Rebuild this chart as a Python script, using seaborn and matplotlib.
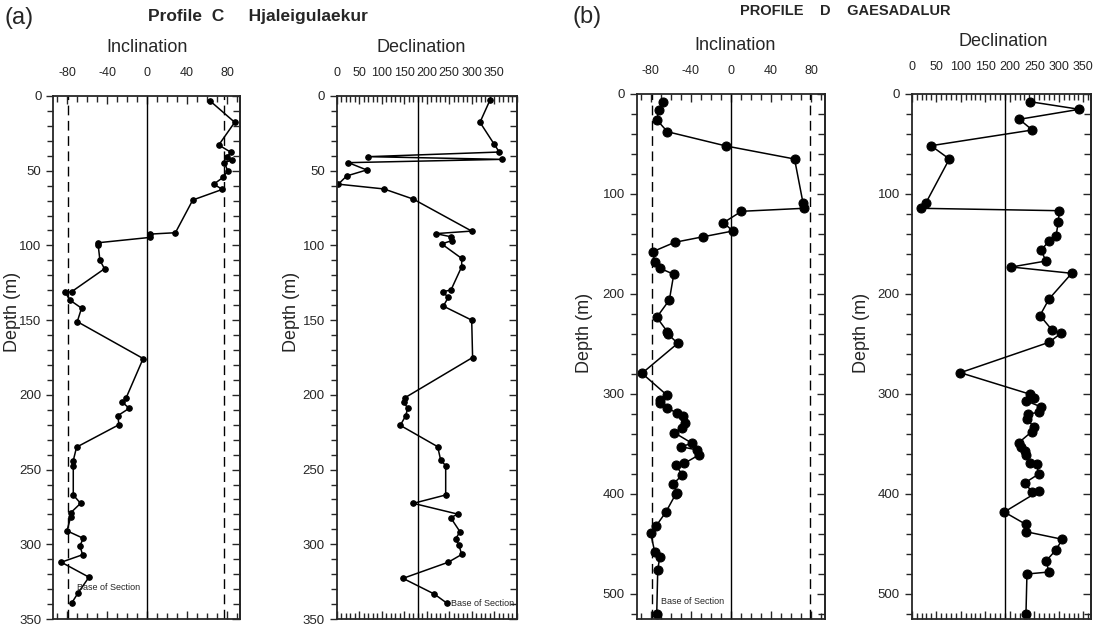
import matplotlib
matplotlib.use("Agg")
import matplotlib.pyplot as plt
from matplotlib.ticker import MultipleLocator
import seaborn as sns
import numpy as np

# ---------------- data ----------------
# Profile C (a): inclination
a_inc_depth = [3.1, 17.6, 32.8, 37.7, 40.6, 42.9, 44.6, 50, 54.5, 59, 62.5, 69.6, 91.5, 92.4, 94.6,
               98.2, 100, 110, 115.6, 131, 131.5, 136.6, 142, 151, 175.7, 202.4, 205, 209, 213.9,
               220, 235, 244, 247.5, 267, 272.6, 279, 282, 291, 296, 301, 307, 312, 322, 332.7, 339]
a_inc_val = [62.7, 87.7, 71.7, 84, 80, 84.7, 77.3, 80.7, 76, 66.7, 75.3, 45.7, 28.3, 3.3, 3.3,
             -49, -49, -47.3, -42.7, -75.7, -82, -77.3, -65.7, -70, -4, -21.3, -24.7, -18, -29.3,
             -28.3, -70.7, -74, -74, -74, -66.7, -76.7, -76.7, -80.3, -64, -67.3, -64.7, -86, -58.3,
             -69.3, -75.3]
# Profile C (a): declination
a_dec_depth = [2.7, 17.6, 32.1, 37.5, 40.6, 42.4, 44.6, 49.5, 53.5, 59, 62.2, 69, 90.4, 92.1, 94.2,
               96.8, 99, 108.7, 114.2, 129.8, 131, 134.8, 140.6, 150, 175, 201.9, 205, 209, 214,
               220.4, 234.7, 243.6, 247.4, 267, 272.6, 279.8, 282.2, 291.6, 296.3, 300.8, 306.8,
               312, 322.8, 333.3, 339.6]
a_dec_val = [340.7, 318.4, 349.6, 361.3, 70.2, 366.7, 25.8, 66.7, 22.2, 3.6, 105, 170.2, 300, 220, 254,
             255.5, 233.3, 277.8, 277.8, 254, 235.6, 248, 236.9, 300, 302, 151.8, 149.6, 157.8, 153.3,
             141.3, 224.4, 231, 242.2, 242.2, 170.2, 268.9, 253.3, 274, 264.4, 271.8, 277.8,
             248, 147.3, 216.9, 245.8]

# Profile D (b): inclination
b_inc_depth = [7.7, 16, 25.7, 37.7, 52, 65, 108.7, 114.3, 117.3, 128.7, 137, 142.7, 148.3, 157.7,
               167.7, 174.3, 180.3, 206, 223.3, 237.7, 240, 249.3, 279.3, 301, 306, 308.7, 313.7,
               319.3, 322, 328.7, 333.7, 338.7, 349.3, 352.7, 356, 361, 369.3, 371, 381, 389.7,
               398.7, 400, 418.3, 432, 439.3, 458, 463, 476, 520]
b_inc_val = [-68, -71.7, -74, -63.4, -4.7, 63.6, 72, 73, 10.6, -7.4, 2, -27.4, -56, -78,
             -76, -70.7, -57, -61.4, -74, -63.4, -63, -53, -88.7, -64, -70.7, -70.7, -64,
             -53.4, -48, -46, -49, -56.4, -38.7, -49.7, -33.4, -32, -46.4, -55, -48.4, -57.4,
             -54, -55, -65, -74.7, -80, -76, -71, -73, -74]
# Profile D (b): declination
b_dec_depth = [7.7, 15.3, 25.3, 36, 51.7, 65, 108.7, 114.3, 116.7, 127.7, 142, 146.7, 156.3, 167,
               173, 179.3, 205, 221.5, 236, 239.3, 248.3, 278.7, 300.3, 304.3, 306.7, 312.7, 318.3,
               320, 325.3, 332.7, 337.7, 348.7, 352.7, 356.7, 361, 369.3, 370, 380, 389, 397.7, 397,
               418, 430.3, 437.7, 445.3, 456, 467, 478, 480, 520]
b_dec_val = [241.2, 341.8, 219.4, 245.9, 39.4, 76.7, 29.2, 18.4, 301, 299, 294.3, 280.6, 263.7, 273.9,
             203.1, 326.3, 280, 261.6, 286.1, 304.4, 280, 99.1, 241.8, 250, 232.5, 263, 260.2,
             236.5, 235.1, 248.8, 244.7, 218.2, 222.9, 231, 232.5, 241.2, 254.9, 259, 230.4, 245.3,
             259.6, 188.8, 232.5, 233.1, 307.1, 294, 274, 280, 235, 233]

inc_ticks = [-80, -40, 0, 40, 80]
dec_ticks = [0, 50, 100, 150, 200, 250, 300, 350]
a_depth_ticks = [0, 50, 100, 150, 200, 250, 300, 350]
b_depth_ticks = [0, 100, 200, 300, 400, 500]

# ---------------- style ----------------
sns.set_style("ticks")
plt.rcParams['font.family'] = ['Liberation Sans', 'DejaVu Sans']
plt.rcParams['axes.linewidth'] = 1.3
plt.rcParams['axes.unicode_minus'] = False

W, H = 1111, 632
fig = plt.figure(figsize=(W / 100, H / 100), dpi=100)


def px_axes(x0, x1, y0, y1):
    return fig.add_axes([x0 / W, 1 - y1 / H, (x1 - x0) / W, (y1 - y0) / H])


def ftext(x, y, s, **kw):
    fig.text(x / W, 1 - y / H, s, **kw)


def style_axes(ax, xlim, xmaj, xmin, ylim, ymaj, ymin, xpad, lab_x, lab_y):
    ax.set_xlim(*xlim)
    ax.set_ylim(ylim[1], ylim[0])
    ax.set_xticks(xmaj)
    ax.xaxis.set_minor_locator(MultipleLocator(xmin))
    ax.tick_params(axis='x', which='both', direction='in', top=True, bottom=True,
                   labeltop=True, labelbottom=False, labelsize=9, pad=xpad)
    ax.tick_params(axis='x', which='major', length=6, width=1)
    ax.tick_params(axis='x', which='minor', length=4, width=1)
    ax.set_yticks(ymaj)
    ax.yaxis.set_minor_locator(MultipleLocator(ymin))
    ax.tick_params(axis='y', which='both', direction='out', left=True, right=False,
                   labelsize=9.5, width=1)
    ax.tick_params(axis='y', which='major', length=5)
    ax.tick_params(axis='y', which='minor', length=4)
    sec = ax.secondary_yaxis('right')
    sec.set_yticks(ymaj)
    sec.yaxis.set_minor_locator(MultipleLocator(ymin))
    sec.tick_params(axis='y', which='both', direction='in', labelright=False, width=1)
    sec.tick_params(axis='y', which='major', length=6)
    sec.tick_params(axis='y', which='minor', length=5)
    ax.set_xlabel("")
    ax.set_ylabel("Depth (m)", fontsize=13)
    ax.yaxis.set_label_coords(lab_x, lab_y)
    for s in ax.spines.values():
        s.set_visible(True)


def draw(ax, x, y, ms):
    sns.lineplot(x=x, y=y, sort=False, estimator=None, ax=ax, color='black', lw=1.1,
                 marker='o', markersize=ms, markeredgecolor='black', markerfacecolor='black')


dash = (0, (7, 4))

# ---- (a) inclination ----
ax1 = px_axes(53.3, 240, 96, 619)
ax1.axvline(0, color='black', lw=1)
ax1.axvline(-79, color='black', lw=1, linestyle=dash)
ax1.axvline(77, color='black', lw=1, linestyle=dash)
draw(ax1, a_inc_val, a_inc_depth, 4)
style_axes(ax1, (-94, 93), inc_ticks, 10, (0, 350), a_depth_ticks, 10, 12, -0.175, 0.587)
ax1.text(-70, 328.6, "Base of Section", fontsize=6.5, va='center', ha='left')

# ---- (a) declination ----
ax2 = px_axes(336.7, 516.7, 96, 619)
ax2.axvline(180, color='black', lw=1)
draw(ax2, a_dec_val, a_dec_depth, 4)
style_axes(ax2, (0, 400), dec_ticks, 10, (0, 350), a_depth_ticks, 10, 12, -0.205, 0.587)
ax2.text(254, 339.4, "Base of Section", fontsize=6.5, va='center', ha='left')

# ---- (b) inclination ----
ax3 = px_axes(636.7, 825, 94, 619)
ax3.axvline(0, color='black', lw=1)
ax3.axvline(-79, color='black', lw=1, linestyle=dash)
ax3.axvline(79, color='black', lw=1, linestyle=dash)
draw(ax3, b_inc_val, b_inc_depth, 6.5)
style_axes(ax3, (-94, 94), inc_ticks, 10, (0, 525), b_depth_ticks, 20, 12, -0.23, 0.545)
ax3.text(-70, 507, "Base of Section", fontsize=6.5, va='center', ha='left')

# ---- (b) declination ----
ax4 = px_axes(911.7, 1090.7, 94, 619)
ax4.axvline(191, color='black', lw=1)
draw(ax4, b_dec_val, b_dec_depth, 6.5)
style_axes(ax4, (0, 365), dec_ticks, 10, (0, 525), b_depth_ticks, 20, 15, -0.235, 0.545)

# ---- titles ----
ftext(5, 18, "(a)", fontsize=17, ha='left', va='center')
ftext(148, 17, "Profile  C     Hjaleigulaekur", fontsize=12.5, fontweight='bold', ha='left', va='center')
ftext(147, 47, "Inclination", fontsize=13, ha='center', va='center')
ftext(421, 48, "Declination", fontsize=13, ha='center', va='center')
ftext(573, 17, "(b)", fontsize=17, ha='left', va='center')
ftext(845, 11, "PROFILE    D    GAESADALUR", fontsize=10.5, fontweight='bold', ha='center', va='center')
ftext(735, 45, "Inclination", fontsize=13, ha='center', va='center')
ftext(1003, 42, "Declination", fontsize=13, ha='center', va='center')

fig.savefig("out.png", dpi=100)
